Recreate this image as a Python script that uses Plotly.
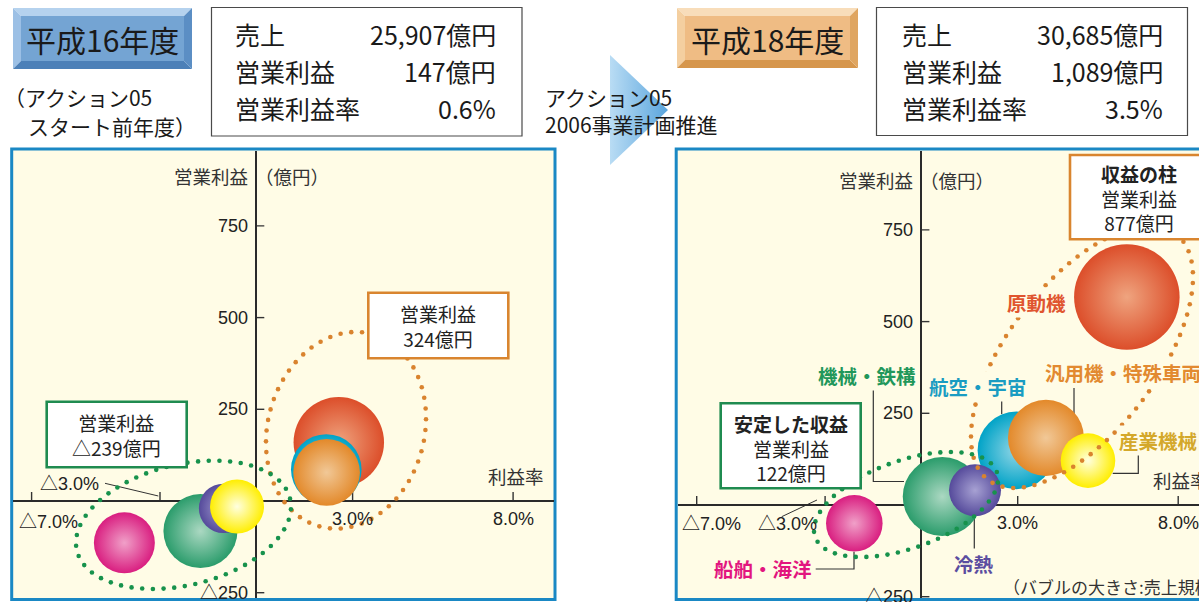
import numpy as np
import plotly.graph_objects as go

W, H = 1199, 602

# ---------------- data ----------------
segments = ["原動機", "航空・宇宙", "汎用機・特殊車両", "機械・鉄構", "冷熱", "産業機械", "船舶・海洋"]
colors_outer = ["#DC4E2A", "#00A3C7", "#E3892A", "#2A9C6B", "#554A9B", "#FFEE00", "#D91E80"]
colors_center = ["#EFA47F", "#93D6E6", "#F1C897", "#ABD8C2", "#A7A1D3", "#FFFFE0", "#F0A0C8"]

# 平成16年度
margin_h16 = [2.57, 2.18, 2.19, -1.74, -1.02, -0.60, -4.11]      # 利益率 (%)
profit_h16 = [160, 86, 78, -82, -20, -15, -114]                  # 営業利益 (億円)
sales_h16 = [6600, 4020, 3580, 4420, 1970, 2350, 3000]           # 売上 (億円)

# 平成18年度
margin_h18 = [6.40, 2.96, 3.88, 0.65, 1.67, 5.19, -2.09]
profit_h18 = [567, 149, 183, 23, 40, 121, -50]
sales_h18 = [8980, 4860, 4660, 5030, 2180, 2400, 2580]

x_ticks = [-7, -3, 3, 8]
x_tick_labels = ["△7.0%", "△3.0%", "3.0%", "8.0%"]
y_ticks = [750, 500, 250, -250]
y_tick_labels = ["750", "500", "250", "△250"]

summary_h16 = [("売上", "25,907億円"), ("営業利益", "147億円"), ("営業利益率", "0.6%")]
summary_h18 = [("売上", "30,685億円"), ("営業利益", "1,089億円"), ("営業利益率", "3.5%")]

# ---------------- layout helpers ----------------
JP = "Noto Sans CJK JP"
NUM = "Liberation Sans, Noto Sans CJK JP"
SIZEREF = 1.613
PX_PER_PCT = 32.1
PX_PER_UNIT = 91.7 / 250
CREAM = "#FFFCE6"

def PXx(px):
    return px / W

def PXy(py):
    return 1 - py / H

panels = {
    "left": dict(inner=(13.2, 150.5, 553.5, 598.0), origin=(256.3, 501.0),
                 border=(11.7, 149.0, 555.0, 599.6), xa="x", ya="y"),
    "right": dict(inner=(677.7, 150.5, 1199.0, 598.0), origin=(921.4, 505.0),
                  border=(676.2, 149.0, 1230.0, 599.6), xa="x2", ya="y2"),
}

def to_data(p, px, py):
    ox, oy = panels[p]["origin"]
    return (np.asarray(px) - ox) / PX_PER_PCT, (oy - np.asarray(py)) / PX_PER_UNIT

def ellipse_dots(cx, cy, a, b, phi_deg, spacing):
    phi = np.radians(phi_deg)
    t = np.linspace(0, 2 * np.pi, 3000, endpoint=False)
    ex = cx + a * np.cos(t) * np.cos(phi) - b * np.sin(t) * np.sin(phi)
    ey = cy - (a * np.cos(t) * np.sin(phi) + b * np.sin(t) * np.cos(phi))
    seg = np.hypot(np.diff(np.append(ex, ex[0])), np.diff(np.append(ey, ey[0])))
    s = np.concatenate([[0], np.cumsum(seg)])[:-1]
    L = seg.sum()
    n = int(round(L / spacing))
    tg = np.arange(n) * L / n
    return np.interp(tg, s, ex), np.interp(tg, s, ey)

fig = go.Figure()
shapes = []
annotations = []

def ann(x, y, text, size=19, color="#222222", xanchor="center", yanchor="middle", family=JP, bg=None):
    a = dict(x=PXx(x), y=PXy(y), xref="paper", yref="paper", text=text,
             showarrow=False, xanchor=xanchor, yanchor=yanchor,
             font=dict(family=family, size=size, color=color))
    if bg:
        a["bgcolor"] = bg
        a["borderpad"] = 0
    annotations.append(a)

def path_paper(pts, closed=True):
    d = "M " + " L ".join(f"{PXx(x):.5f},{PXy(y):.5f}" for x, y in pts)
    return d + (" Z" if closed else "")

def poly(pts, fill, layer="below"):
    shapes.append(dict(type="path", xref="paper", yref="paper", path=path_paper(pts),
                       fillcolor=fill, line=dict(width=0), layer=layer))

def polyline(pts, color="#333333", width=1.2, layer="below"):
    shapes.append(dict(type="path", xref="paper", yref="paper", path=path_paper(pts, closed=False),
                       line=dict(color=color, width=width), layer=layer))

def rect(x0, y0, x1, y1, fill, line_color, lw, layer="below"):
    shapes.append(dict(type="rect", xref="paper", yref="paper", x0=PXx(x0), x1=PXx(x1),
                       y0=PXy(y1), y1=PXy(y0), fillcolor=fill,
                       line=dict(color=line_color, width=lw), layer=layer))

# ---------------- panels ----------------
for p in ("left", "right"):
    bx0, by0, bx1, by1 = panels[p]["border"]
    rect(bx0, by0, bx1, by1, CREAM, "#1A88C4", 3)

# ---------------- bubbles ----------------
for p, mx, pr, sa in (("left", margin_h16, profit_h16, sales_h16),
                      ("right", margin_h18, profit_h18, sales_h18)):
    xa, ya = panels[p]["xa"], panels[p]["ya"]
    fig.add_trace(go.Scatter(
        x=mx, y=pr, mode="markers", xaxis=xa, yaxis=ya, hoverinfo="skip",
        text=segments,
        marker=dict(size=sa, sizemode="area", sizeref=SIZEREF, color=colors_outer,
                    line=dict(width=0), opacity=1,
                    gradient=dict(type="radial", color=colors_center))))

# ---------------- dotted ellipses (decoration) ----------------
ellipses = [
    ("left", (346.0, 430.3, 99.7, 78.3, 74.5), "#D9832E"),
    ("left", (183.5, 524.8, 109.7, 60.3, 13.8), "#17924C"),
    ("right", (1082.0, 357.0, 154.7, 74.4, 52.6), "#D9832E"),
    ("right", (906.0, 504.5, 96.5, 43.8, 19.7), "#17924C"),
]
for p, (cx, cy, a, b, ph), col in ellipses:
    ex, ey = ellipse_dots(cx, cy, a, b, ph, 10.7)
    dx, dy = to_data(p, ex, ey)
    fig.add_trace(go.Scatter(x=dx, y=dy, mode="markers", xaxis=panels[p]["xa"], yaxis=panels[p]["ya"],
                             hoverinfo="skip", marker=dict(size=4.6, color=col, line=dict(width=0))))

# ---------------- axes ticks & labels ----------------
xlab_offsets = {
    "left": [(17, 21), (-91, -17), (0, 18), (0, 18)],
    "right": [(15, 19), (-38, 19), (0, 18), (0, 18)],
}
for p in ("left", "right"):
    xa, ya = panels[p]["xa"], panels[p]["ya"]
    ox, oy = panels[p]["origin"]
    for t in y_ticks:
        shapes.append(dict(type="line", xref=xa, yref=ya, xsizemode="pixel", xanchor=0,
                           x0=0, x1=8, y0=t, y1=t, line=dict(color="#333333", width=1.4), layer="below"))
    for t in x_ticks:
        shapes.append(dict(type="line", xref=xa, yref=ya, ysizemode="pixel", yanchor=0,
                           y0=0, y1=9, x0=t, x1=t, line=dict(color="#333333", width=1.4), layer="below"))
    for t, lab in zip(y_ticks, y_tick_labels):
        ty = oy - t * PX_PER_UNIT
        ann(ox - 6.5, ty, lab, size=18, xanchor="right", family=NUM)
    for t, lab, (dxo, dyo) in zip(x_ticks, x_tick_labels, xlab_offsets[p]):
        tx = ox + t * PX_PER_PCT
        ann(tx + dxo, oy + dyo, lab, size=18, family=NUM)
    # axis titles
    ann(ox - 6.5, oy - 325, "営業利益", size=18.5, color="#333333", xanchor="right")
    ann(ox - 3.5, oy - 325, "（億円）", size=18.5, color="#333333", xanchor="left")
    ann(ox + 259.5, oy - 25.5, "利益率", size=18.5, color="#333333")

# leader lines for △3.0%
polyline([(105, 483.3), (158.3, 496)], width=1)
polyline([(781.7, 516.7), (817, 500)], width=1)

# ---------------- segment labels (right panel) ----------------
seg_labels = [
    ("機械・鉄構", 866.7, 375, "#21975A", "center"),
    ("航空・宇宙", 978.4, 386, "#1A9CC2", "center"),
    ("汎用機・特殊車両", 1043.5, 372, "#E28A30", "left"),
    ("産業機械", 1117.5, 440, "#D4A82A", "left"),
    ("原動機", 1036.0, 302.3, "#E0552F", "center"),
    ("冷熱", 974.0, 563.3, "#5B4DA0", "center"),
    ("船舶・海洋", 763.0, 568.3, "#E2167F", "center"),
]
for txt, x, y, col, xa_ in seg_labels:
    ann(x, y, f"<b>{txt}</b>", size=19.5, color=col, xanchor=xa_, bg=CREAM)

polyline([(873.3, 390), (873.3, 481.5), (904, 481.5)])
polyline([(1001.7, 398), (1001.7, 414)])
polyline([(1074, 388), (1074, 417)])
polyline([(1138.3, 453), (1138.3, 473.3), (1112.7, 473.3)])
polyline([(974.3, 516.7), (974.3, 550)])
polyline([(815.7, 569), (854, 569), (854, 551.7)])

ann(1000.5, 586.7, "（バブルの大きさ:売上規模）", size=17, color="#333333", xanchor="left")

# ---------------- callout boxes ----------------
rect(368.3, 292.7, 508.3, 358.3, "white", "#D9852F", 2.6, layer="above")
ann(438.3, 325.5, "営業利益<br>324億円", size=19)
rect(46.7, 401.7, 186.7, 467.3, "white", "#1F8B50", 2.6, layer="above")
ann(116.7, 434.5, "営業利益<br>△239億円", size=19)
rect(720.7, 403.3, 860.7, 488.3, "white", "#1F8B50", 2.6, layer="above")
ann(790.7, 447.5, "<b>安定した収益</b><br>営業利益<br>122億円", size=19)
rect(1070.0, 155.0, 1209.0, 239.3, "white", "#D9852F", 2.6, layer="above")
ann(1139.3, 198.0, "<b>収益の柱</b><br>営業利益<br>877億円", size=19)

# ---------------- header ----------------
def bevel_box(x0, y0, x1, y1, d, face, top, left, bottom, right):
    poly([(x0, y0), (x1, y0), (x1 - d, y0 + d), (x0 + d, y0 + d)], top)
    poly([(x0, y0), (x0 + d, y0 + d), (x0 + d, y1 - d), (x0, y1)], left)
    poly([(x0, y1), (x0 + d, y1 - d), (x1 - d, y1 - d), (x1, y1)], bottom)
    poly([(x1, y0), (x1, y1), (x1 - d, y1 - d), (x1 - d, y0 + d)], right)
    poly([(x0 + d, y0 + d), (x1 - d, y0 + d), (x1 - d, y1 - d), (x0 + d, y1 - d)], face)

bevel_box(13, 8, 192, 69, 8, "#74A4D3", "#B5D2EE", "#9CC0E5", "#4C80B8", "#5B8EC4")
ann(102.5, 39, "平成16年度", size=30, color="#1A1A1A")
bevel_box(677, 8, 858, 68, 8, "#EFBC84", "#F8DDBA", "#F4CFA0", "#D6964C", "#DFA560")
ann(767.5, 38.5, "平成18年度", size=30, color="#1A1A1A")

rect(211.5, 7.5, 522.0, 136.0, "white", "#4A4A4A", 1.2)
rect(876.5, 7.5, 1187.5, 135.5, "white", "#4A4A4A", 1.2)
rows_y = [34, 71, 108]
for (lab, val), y in zip(summary_h16, rows_y):
    ann(233.0, y, lab, size=25, color="#1A1A1A", xanchor="left")
    ann(498.0, y, val, size=25, color="#1A1A1A", xanchor="right")
for (lab, val), y in zip(summary_h18, rows_y):
    ann(899.5, y, lab, size=25, color="#1A1A1A", xanchor="left")
    ann(1164.5, y, val, size=25, color="#1A1A1A", xanchor="right")

ann(2, 97, "（アクション05", size=21, color="#1A1A1A", xanchor="left")
ann(26, 126, "スタート前年度）", size=21, color="#1A1A1A", xanchor="left")

# arrow (pixel overlay axis)
fig.add_trace(go.Scatter(x=[610, 668, 610, 610], y=[55, 110, 165, 55], mode="lines",
                         fill="toself", xaxis="x3", yaxis="y3", hoverinfo="skip",
                         line=dict(width=0, color="rgba(0,0,0,0)"),
                         fillgradient=dict(type="horizontal",
                                           colorscale=[[0, "#B9DCF4"], [1, "#5AA5DD"]])))
ann(543, 97, "アクション05", size=21, color="#1A1A1A", xanchor="left")
ann(543, 124, "2006事業計画推進", size=21, color="#1A1A1A", xanchor="left")

# ---------------- axes setup ----------------
def axis_cfg(p):
    x0, y0, x1, y1 = panels[p]["inner"]
    ox, oy = panels[p]["origin"]
    xr = [(x0 - ox) / PX_PER_PCT, (x1 - ox) / PX_PER_PCT]
    yr = [(oy - y1) / PX_PER_UNIT, (oy - y0) / PX_PER_UNIT]
    common = dict(showgrid=False, showticklabels=False, ticks="", showline=False,
                  zeroline=True, zerolinecolor="#2A2A2A", zerolinewidth=1.5, fixedrange=True)
    xd = dict(domain=[PXx(x0), min(PXx(x1), 1.0)], range=xr, **common)
    yd = dict(domain=[PXy(y1), PXy(y0)], range=yr, **common)
    return xd, yd

xl, yl = axis_cfg("left")
xr_, yr_ = axis_cfg("right")
fig.update_layout(
    width=W, height=H, margin=dict(l=0, r=0, t=0, b=0),
    paper_bgcolor="white", plot_bgcolor="rgba(0,0,0,0)", showlegend=False,
    xaxis=dict(anchor="y", **xl), yaxis=dict(anchor="x", **yl),
    xaxis2=dict(anchor="y2", **xr_), yaxis2=dict(anchor="x2", **yr_),
    xaxis3=dict(anchor="y3", domain=[0, 1], range=[0, W], visible=False, fixedrange=True),
    yaxis3=dict(anchor="x3", domain=[0, 1], range=[H, 0], visible=False, fixedrange=True),
    shapes=shapes, annotations=annotations,
)

fig.write_html("out.html", config={"displayModeBar": False},
               post_script="document.body.style.margin='0px';document.body.style.overflow='hidden';")
